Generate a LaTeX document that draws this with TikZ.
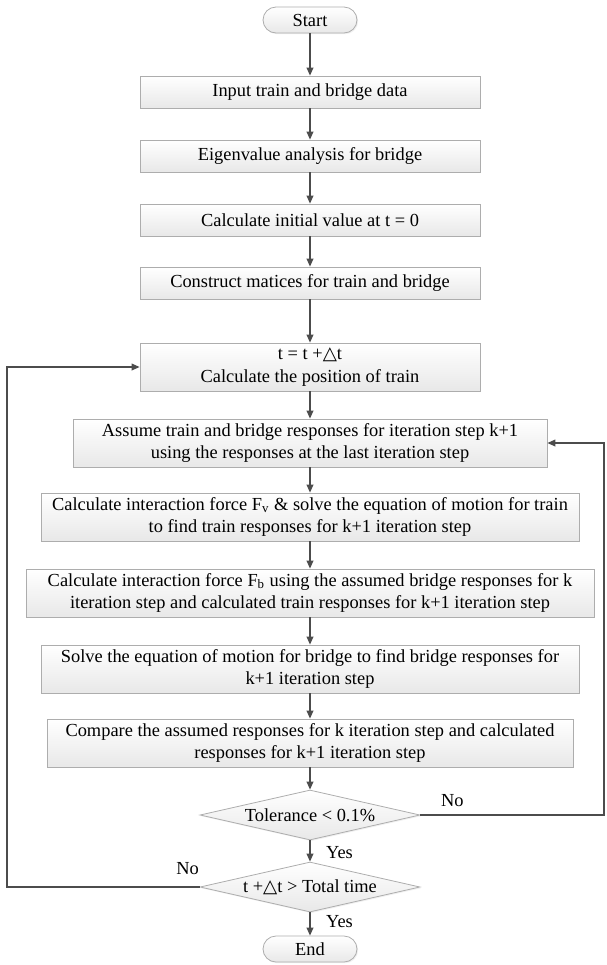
\documentclass[tikz,border=0pt]{standalone}
\usepackage{fontspec}
\setmainfont{Liberation Serif}
\newfontfamily\symfont{DejaVu Sans}
\usetikzlibrary{arrows.meta,shapes.geometric,shadows,calc}
\tikzstyle{proc} = [draw=black!32,top color=white,bottom color=black!9,line width=0.4pt,minimum height=16pt,align=center,inner sep=2pt,drop shadow={opacity=0.12,shadow xshift=0.6pt,shadow yshift=-0.6pt}]
\tikzstyle{twoline} = [proc,minimum height=24pt]
\tikzstyle{term} = [proc,rounded corners=6.5pt,minimum width=47pt,minimum height=13pt]
\tikzstyle{test} = [proc,diamond,shape aspect=4.4,inner sep=0pt,minimum width=110pt,minimum height=25pt]
\tikzstyle{flow} = [draw=black!70,line width=0.6pt,-{Triangle[length=4pt,width=3.4pt]}]
\newcommand{\dtstep}{{\symfont\char"25B3}t}

\begin{document}
\begin{tikzpicture}[x=0.5pt,y=-0.5pt,font=\fontsize{9.2}{11.3}\selectfont]
        \useasboundingbox (0,0) rectangle (606,965);

        \node[term] (start) at (310,20) {Start};
        \node[proc,minimum width=170pt] (input) at (310,92) {Input train and bridge data};
        \node[proc,minimum width=170pt] (eigen) at (310,156) {Eigenvalue analysis for bridge};
        \node[proc,minimum width=170pt] (init) at (310,220) {Calculate initial value at t = 0};
        \node[proc,minimum width=170pt] (build) at (310,283) {Construct matices for train and bridge};
        \node[twoline,minimum width=170pt] (step) at (310,367) {t = t +\dtstep\\Calculate the position of train};
        \node[twoline,minimum width=237pt] (guess) at (310,443) {Assume train and bridge responses for iteration step k+1\\using the responses at the last iteration step};
        \node[twoline,minimum width=269pt] (ftrain) at (310,517) {Calculate interaction force F\textsubscript{v} \& solve the equation of motion for train\\to find train responses for k+1 iteration step};
        \node[twoline,minimum width=284pt] (fbridge) at (310,593) {Calculate interaction force F\textsubscript{b} using the assumed bridge responses for k\\iteration step and calculated train responses for k+1 iteration step};
        \node[twoline,minimum width=269pt] (solve) at (310,669) {Solve the equation of motion for bridge to find bridge responses for\\k+1 iteration step};
        \node[twoline,minimum width=263pt] (check) at (310,743) {Compare the assumed responses for k iteration step and calculated\\responses for k+1 iteration step};
        \node[test] (tol) at (310,815) {Tolerance < 0.1\%};
        \node[test] (tend) at (310,887) {t +\dtstep{} > Total time};
        \node[term] (stop) at (310,949) {End};

        \draw[flow] (start) to (input);
        \draw[flow] (input) to (eigen);
        \draw[flow] (eigen) to (init);
        \draw[flow] (init) to (build);
        \draw[flow] (build) to (step);
        \draw[flow] (step) to (guess);
        \draw[flow] (guess) to (ftrain);
        \draw[flow] (ftrain) to (fbridge);
        \draw[flow] (fbridge) to (solve);
        \draw[flow] (solve) to (check);
        \draw[flow] (check) to (tol);
        \draw[flow] (tol) to (tend);
        \draw[flow] (tend) to (stop);

        \coordinate (lc) at (7,887);
        \coordinate (rc) at (604,815);
        \draw[flow] (tend.west) to (lc) |- (step.west);
        \draw[flow] (tol.east) to (rc) |- (guess.east);

        \node[anchor=west] (yes1) at (319,853) {Yes};
        \node[anchor=west] (yes2) at (319,922) {Yes};
        \node[anchor=west] (no1) at (434,801) {No};
        \node[anchor=east] (no2) at (206,869) {No};
    \end{tikzpicture}
\end{document}
